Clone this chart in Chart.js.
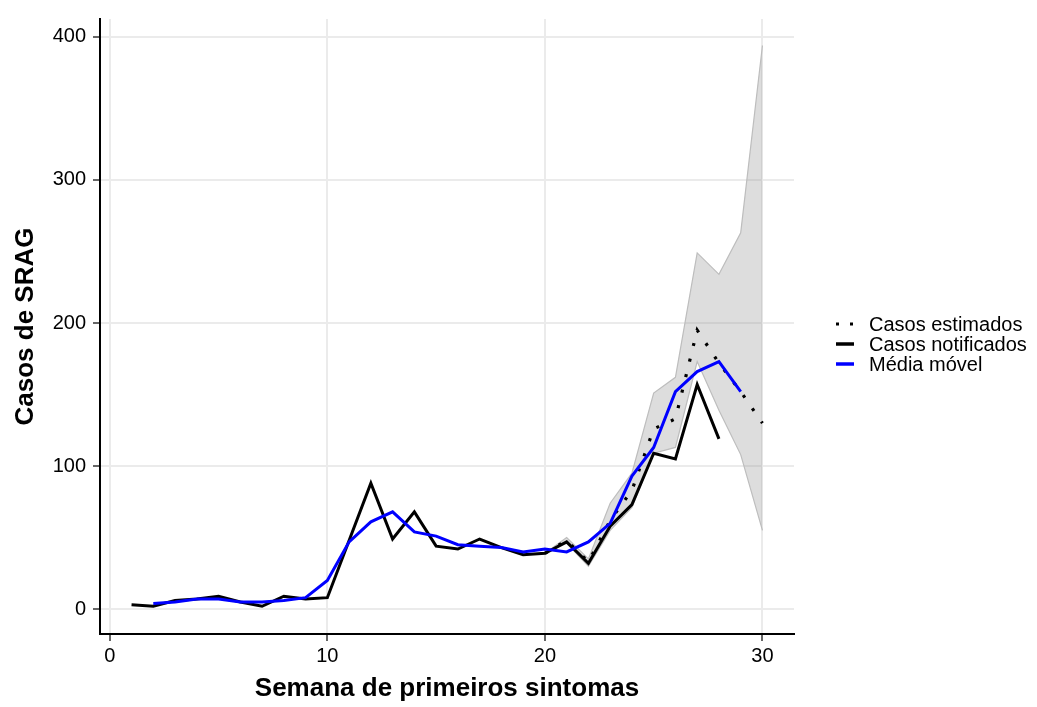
<!DOCTYPE html>
<html>
<head>
<meta charset="utf-8">
<script src="https://cdn.jsdelivr.net/npm/chart.js@4/dist/chart.umd.min.js"></script>
<style>
  body { margin: 0; background: #fff; }
  #wrap { width: 1037px; height: 707px; }
</style>
</head>
<body>
<div id="wrap"><canvas id="sragChart" width="1037" height="707"></canvas></div>
<script>
// weeks of first symptoms
const weeks = [1, 2, 3, 4, 5, 6, 7, 8, 9, 10, 11, 12, 13, 14, 15, 16, 17, 18, 19, 20,
  21, 22, 23, 24, 25, 26, 27, 28, 29, 30];

// reported cases (weeks 1-28)
const notified = [3, 2, 6, 7, 9, 5, 2, 9, 7, 8, 48, 88, 49, 68, 44, 42, 49, 43, 38, 39,
  47, 32, 58, 73, 109, 105, 157, 119, null, null];

// 3-week moving average (weeks 2-29)
const movingAvg = [null, 4, 5, 7, 7, 5, 5, 6, 8, 20, 47, 61, 68, 54, 51, 45, 44, 43, 40, 42,
  40, 47, 60, 93, 113, 152, 166, 173, 152, null];

// nowcast (weeks 20-30)
const estWeeks = [20, 21, 22, 23, 24, 25, 26, 27, 28, 29, 30];
const estimated = [39, 48, 33, 62, 83, 126, 133, 195, 172, 152, 130];
const estLower = [39, 46, 30, 55, 71, 109, 113, 173, 139, 108, 55];
const estUpper = [39, 50, 35, 74, 95, 151, 162, 249, 234, 263, 394];

const xTicks = [0, 10, 20, 30];
const yTicks = [0, 100, 200, 300, 400];
const legendLabels = ["Casos estimados", "Casos notificados", "Média móvel"];

const FONT = "'Liberation Sans', Arial, Helvetica, sans-serif";

function pts(xs, ys) {
  return xs.map((x, i) => ({ x: x, y: ys[i] })).filter((p) => p.y !== null);
}

// legend drawn to the right of the panel
const sideLegend = {
  id: "sideLegend",
  afterDraw(chart) {
    const c = chart.ctx;
    const rows = [324, 344, 364];
    c.save();
    c.font = "20px " + FONT;
    c.textBaseline = "middle";
    c.fillStyle = "#000";
    rows.forEach((y, i) => {
      c.beginPath();
      c.lineCap = "butt";
      if (i === 0) {
        c.setLineDash([3, 11]);
        c.lineWidth = 3;
        c.strokeStyle = "#000";
      } else {
        c.setLineDash([]);
        c.lineWidth = 3.5;
        c.strokeStyle = i === 1 ? "#000" : "#0000ff";
      }
      c.moveTo(836, y);
      c.lineTo(854, y);
      c.stroke();
      c.fillText(legendLabels[i], 869, y + 1);
    });
    c.restore();
  },
};

const ctx = document.getElementById("sragChart").getContext("2d");

new Chart(ctx, {
  type: "line",
  data: {
    datasets: [
      {
        label: legendLabels[2],
        data: pts(weeks, movingAvg),
        borderColor: "#0000ff",
        borderWidth: 3,
        pointRadius: 0,
        tension: 0,
        fill: false,
        order: 0,
      },
      {
        label: legendLabels[1],
        data: pts(weeks, notified),
        borderColor: "#000",
        borderWidth: 3,
        pointRadius: 0,
        tension: 0,
        fill: false,
        order: 1,
      },
      {
        label: legendLabels[0],
        data: pts(estWeeks, estimated),
        borderColor: "#000",
        borderWidth: 3.2,
        borderDash: [3, 13],
        borderCapStyle: "butt",
        pointRadius: 0,
        tension: 0,
        fill: false,
        order: 2,
      },
      {
        label: "lower",
        data: pts(estWeeks, estLower),
        borderColor: "#bdbdbd",
        borderWidth: 1.2,
        pointRadius: 0,
        tension: 0,
        fill: false,
        order: 3,
      },
      {
        label: "upper",
        data: pts(estWeeks, estUpper),
        borderColor: "#bdbdbd",
        borderWidth: 1.2,
        backgroundColor: "rgba(153,153,153,0.33)",
        pointRadius: 0,
        tension: 0,
        fill: "-1",
        order: 3,
      },
    ],
  },
  options: {
    responsive: false,
    animation: false,
    layout: { padding: { top: 15, right: 243, left: 0, bottom: 0 } },
    plugins: {
      legend: { display: false },
      tooltip: { enabled: false },
    },
    scales: {
      x: {
        type: "linear",
        min: -0.45,
        max: 31.45,
        afterBuildTicks: (s) => { s.ticks = xTicks.map((v) => ({ value: v })); },
        afterFit: (s) => { s.height = 73; },
        grid: { color: "#ebebeb", lineWidth: 2, tickColor: "#333", tickLength: 7, tickWidth: 1.5 },
        border: { color: "#000", width: 2 },
        ticks: { color: "#000", font: { family: FONT, size: 20 }, padding: 3, maxRotation: 0 },
        title: {
          display: true,
          text: "Semana de primeiros sintomas",
          color: "#000",
          font: { family: FONT, size: 26, weight: "bold", lineHeight: 1.2 },
          padding: { top: 0, bottom: 3 },
        },
      },
      y: {
        min: -17.4,
        max: 412.5,
        afterBuildTicks: (s) => { s.ticks = yTicks.map((v) => ({ value: v })); },
        afterFit: (s) => { s.width = 100; },
        grid: { color: "#ebebeb", lineWidth: 2, tickColor: "#333", tickLength: 7, tickWidth: 1.5 },
        border: { color: "#000", width: 2 },
        ticks: { color: "#000", font: { family: FONT, size: 20 }, padding: 7 },
        title: {
          display: true,
          text: "Casos de SRAG",
          color: "#000",
          font: { family: FONT, size: 26, weight: "bold", lineHeight: 1.2 },
          padding: { top: 10, bottom: 0 },
        },
      },
    },
  },
  plugins: [sideLegend],
});
</script>
</body>
</html>
